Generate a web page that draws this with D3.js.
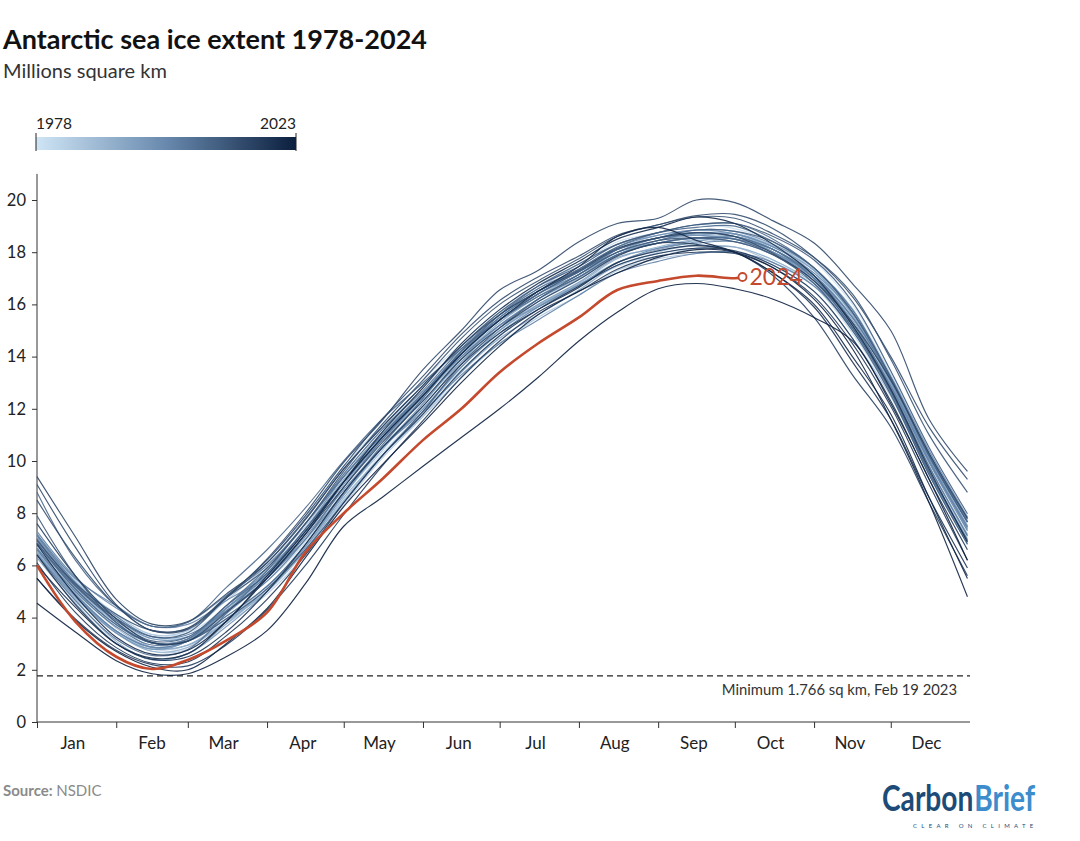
<!DOCTYPE html>
<html><head><meta charset="utf-8">
<script src="https://cdn.jsdelivr.net/npm/d3@7"></script>
<style>
body{margin:0;background:#fff;}
svg text{font-family: Lato, "Open Sans", "Noto Sans", sans-serif;}
</style></head><body>
<svg id="chart" width="1080" height="841"></svg>
<script>
// ---- data (millions sq km), sampled on these days of year ----
const days = [0,15,31,45,59,74,90,105,120,135,151,166,181,196,212,227,243,258,273,288,304,319,334,349,364];
const monthNames = ["Jan","Feb","Mar","Apr","May","Jun","Jul","Aug","Sep","Oct","Nov","Dec"];
const monthStarts = [0,31,59,90,120,151,181,212,243,273,304,334];
const yTicks = [0,2,4,6,8,10,12,14,16,18,20];
const minimumValue = 1.766;
const minimumLabel = "Minimum 1.766 sq km, Feb 19 2023";

const y1978 = [null,null,null,null,null,null,null,null,null,null,null,null,null,null,null,null,null,null,null,null,17.7,16.0,13.45,10.45,7.85];
const y1979 = [7.1,5.3,3.97,3.19,3.26,3.95,5.1,6.7,8.5,10.3,11.9,13.6,14.9,15.9,16.85,17.6,18.15,18.45,18.6,18.1,17.2,15.6,13.13,10.19,7.65];
const y1980 = [6.95,5.2,3.89,3.19,3.42,4.75,6.2,7.9,9.8,11.4,13.1,14.5,15.8,16.7,17.55,18.4,18.75,19.05,18.9,18.4,17.3,15.6,13.0,10.0,7.46];
const y1981 = [7.3,5.45,4.13,3.35,3.42,4.35,5.4,6.9,9.0,10.6,12.0,13.5,14.7,15.6,16.55,17.5,17.85,18.15,18.2,17.7,16.7,14.9,12.54,9.47,6.81];
const y1982 = [6.5,4.8,3.49,2.79,3.1,4.35,5.7,7.4,9.2,11.0,12.5,14.0,15.2,16.2,16.95,17.9,18.45,18.65,18.7,18.2,17.3,15.8,13.32,10.39,7.85];
const y1983 = [7.2,5.4,4.05,3.27,3.26,4.05,5.2,6.7,8.7,10.5,12.2,13.9,15.3,16.4,17.15,18.0,18.35,18.55,18.4,17.9,16.8,15.0,12.67,9.6,6.94];
const y1984 = [6.65,4.9,3.41,2.71,2.78,3.75,4.9,6.4,8.3,10.1,11.7,13.4,14.8,15.8,16.75,17.45,18.0,18.3,18.55,18.2,17.35,15.85,13.13,10.19,7.65];
const y1985 = [7.15,5.4,4.13,3.35,3.5,4.65,6.0,7.5,9.5,11.2,12.8,14.4,15.7,16.6,17.55,18.3,18.65,18.85,18.7,18.1,17.0,15.2,12.74,9.67,7.07];
const y1986 = [6.7,4.95,3.49,2.79,2.94,3.95,5.1,6.7,8.5,10.2,11.7,13.2,14.5,15.5,16.35,17.3,17.75,17.95,18.0,17.5,16.5,14.7,12.48,9.48,6.81];
const y1987 = [6.4,4.75,3.41,2.79,3.1,4.25,5.6,7.2,9.2,10.8,12.5,14.2,15.5,16.5,17.25,18.1,18.65,18.75,18.7,18.1,17.2,15.5,13.06,null,null];
const y1988 = [null,5.1,3.81,3.03,3.1,3.95,5.2,6.7,8.7,10.4,12.2,14.0,15.4,16.4,17.15,18.1,18.55,18.65,18.7,18.1,17.1,15.5,13.0,10.0,7.46];
const y1989 = [6.9,5.15,3.81,3.03,3.18,4.45,5.8,7.4,9.4,11.0,12.5,13.9,15.1,16.0,16.75,17.6,18.05,18.25,18.2,17.6,16.7,15.0,12.74,9.8,7.2];
const y1990 = [6.8,5.05,3.6,2.85,2.95,3.85,5.0,6.55,8.45,10.2,11.9,13.6,15.0,16.1,17.0,17.9,18.45,18.7,18.7,18.25,17.3,15.65,13.1,10.05,7.35];
const y1991 = [6.55,4.85,3.41,2.71,2.86,3.85,5.0,6.6,8.4,10.2,11.9,13.6,15.0,15.95,16.8,17.75,18.2,18.5,18.6,18.1,17.1,15.5,13.13,10.25,7.79];
const y1992 = [7.1,5.25,3.81,2.87,2.94,3.85,5.1,6.6,8.6,10.2,11.8,13.4,14.7,15.6,16.55,17.5,17.95,18.15,18.2,17.7,16.8,15.2,12.93,10.0,7.46];
const y1993 = [6.5,4.7,3.09,2.39,2.62,3.75,5.1,6.8,8.7,10.5,12.1,13.8,15.2,16.2,17.05,18.0,18.35,18.55,18.6,18.1,17.0,15.3,12.8,9.8,7.14];
const y1994 = [6.6,4.85,3.49,2.87,3.1,4.35,5.7,7.3,9.3,10.9,12.5,14.0,15.3,16.3,17.15,17.9,18.45,18.65,18.7,18.2,17.3,15.6,13.06,10.12,7.52];
const y1995 = [6.8,5.1,3.73,3.03,3.18,4.15,5.5,7.0,9.0,10.8,12.4,14.1,15.4,16.4,17.15,18.1,18.55,18.65,18.5,18.0,16.9,15.1,12.67,9.6,6.94];
const y1996 = [6.45,4.85,3.49,2.87,3.1,4.35,5.7,7.4,9.2,10.8,12.3,13.8,15.0,16.0,16.85,17.8,18.15,18.45,18.4,17.9,17.0,15.4,13.0,10.06,7.52];
const y1997 = [6.3,4.55,3.01,2.39,2.62,3.65,5.0,6.7,8.7,10.5,12.2,13.9,15.2,15.9,16.7,17.6,18.1,18.4,18.6,18.0,16.9,15.1,12.6,9.54,6.88];
const y1998 = [6.4,4.8,3.41,2.79,3.1,4.45,5.8,7.4,9.4,11.1,12.6,14.1,15.4,16.4,17.15,18.0,18.55,18.65,18.5,18.0,17.1,15.5,13.13,10.26,7.72];
const y1999 = [7.05,5.3,3.97,3.19,3.26,4.35,5.6,7.3,9.1,10.9,12.5,14.2,15.5,16.5,17.25,18.1,18.55,18.85,18.8,18.3,17.4,15.7,13.06,10.06,7.4];
const y2000 = [6.85,5.1,3.73,3.03,3.18,4.35,5.6,7.2,9.2,10.9,12.6,14.2,15.6,16.5,17.35,18.2,18.65,18.85,18.7,18.2,17.2,15.7,13.25,10.39,7.85];
const y2001 = [7.3,5.55,4.37,3.67,3.74,4.65,5.6,7.0,8.8,10.5,12.0,13.6,14.9,15.9,16.75,17.6,18.15,18.35,18.4,18.0,17.0,15.3,12.87,9.93,7.33];
const y2002 = [6.6,4.9,3.49,2.87,3.1,4.25,5.5,7.1,8.9,10.5,11.9,13.3,14.5,15.4,16.35,17.2,17.65,17.95,18.0,17.6,16.7,15.1,12.87,10.0,7.46];
const y2003 = [7.2,5.5,4.45,3.67,3.82,4.85,6.0,7.6,9.4,11.0,12.6,14.0,15.2,16.2,17.05,17.9,18.35,18.55,18.5,18.1,17.1,15.5,13.13,10.26,7.79];
const y2004 = [7.15,5.35,4.05,3.27,3.34,4.25,5.4,7.0,9.0,10.8,12.5,14.2,15.5,16.5,17.35,18.1,18.55,18.75,18.6,18.1,17.1,15.3,12.8,9.8,7.14];
const y2005 = [6.65,5.0,3.65,2.95,3.18,4.45,5.9,7.6,9.4,11.0,12.6,14.2,15.4,16.4,17.25,18.0,18.45,18.75,18.6,18.1,17.0,15.2,12.67,9.6,6.94];
const y2006 = [6.4,4.65,3.17,2.55,2.78,4.15,5.8,7.6,9.5,11.2,12.7,14.3,15.6,16.6,17.35,18.2,18.75,19.05,19.1,18.5,17.4,15.8,13.19,10.19,7.66];
const y2007 = [6.85,5.1,3.73,3.03,3.1,4.05,5.2,6.8,8.8,10.6,12.4,14.2,15.6,16.7,17.55,18.3,18.75,18.95,19.0,18.4,17.4,15.7,13.19,10.26,7.66];
const y2008 = [8.8,6.2,4.45,3.67,3.82,5.15,6.6,8.2,10.0,11.6,13.0,14.3,15.4,16.3,17.05,17.9,18.35,18.55,18.5,17.9,16.9,15.1,12.67,9.6,6.99];
const y2009 = [6.85,5.2,3.89,3.11,3.26,4.45,5.7,7.4,9.2,10.9,12.5,14.1,15.4,16.4,17.25,18.1,18.55,18.85,18.8,18.4,17.4,15.7,13.19,10.19,7.66];
const y2010 = [7.0,5.25,3.97,3.27,3.42,4.75,6.1,7.8,9.7,11.3,12.9,14.4,15.7,16.7,17.45,18.3,18.75,19.05,19.1,18.6,17.7,16.1,13.45,10.52,7.98];
const y2011 = [7.9,5.6,3.81,3.03,3.1,3.95,5.1,6.6,8.4,10.2,11.9,13.7,15.1,16.2,17.15,18.0,18.45,18.55,18.4,17.9,16.8,15.0,12.54,9.47,6.81];
const y2012 = [6.95,5.3,4.13,3.51,3.58,4.75,5.9,7.6,9.6,11.4,13.1,14.7,16.0,16.9,17.75,18.6,19.05,19.35,19.3,18.7,17.8,16.4,13.9,11.0,8.8];
const y2013 = [8.5,6.3,4.45,3.5,3.6,4.8,6.2,7.9,9.8,11.6,13.25,14.85,16.15,17.05,17.85,18.65,19.05,19.4,19.45,18.9,17.8,16.3,14.0,11.3,9.3];
const y2014 = [9.1,6.7,4.5,3.5,3.55,4.75,6.25,8.0,9.95,11.55,13.5,15.0,16.55,17.3,18.4,19.1,19.3,20.0,19.9,19.2,18.35,16.8,15.0,11.6,9.6];
const y2015 = [9.4,7.1,4.7,3.75,3.85,4.9,6.1,7.75,9.7,11.3,12.9,14.4,15.6,16.5,17.3,18.15,18.55,18.75,18.6,17.95,16.9,15.3,13.1,10.3,7.8];
const y2016 = [7.6,5.6,3.95,3.05,3.1,4.2,5.5,7.2,9.0,10.7,12.3,13.9,15.1,16.1,16.95,17.85,18.35,18.3,18.0,17.1,15.5,13.3,11.3,8.4,5.6];
const y2017 = [5.5,3.95,2.75,2.2,2.15,2.95,4.3,6.0,7.95,9.8,11.55,13.2,14.6,15.7,16.5,17.35,17.85,18.0,17.95,17.4,16.3,14.5,12.1,9.1,6.2];
const y2018 = [6.1,4.2,2.85,2.25,2.3,3.3,4.7,6.4,8.4,10.2,11.8,13.45,14.8,15.8,16.7,17.5,17.95,18.15,18.05,17.5,16.5,14.7,12.3,9.3,6.6];
const y2019 = [6.4,4.5,3.0,2.4,2.5,3.45,5.0,6.8,8.8,10.5,12.1,13.7,14.9,15.8,16.65,17.6,18.05,18.25,18.0,17.2,15.9,13.8,11.6,8.6,5.9];
const y2020 = [6.0,4.4,3.0,2.45,2.62,3.85,5.5,7.2,9.2,11.1,12.8,14.5,15.8,16.8,17.65,18.5,18.95,19.35,19.1,18.3,17.1,15.2,12.75,9.7,6.9];
const y2021 = [6.8,4.85,3.25,2.6,2.75,3.85,5.6,7.3,9.2,10.9,12.5,14.1,15.4,16.5,17.45,18.6,18.95,18.45,18.0,17.2,16.0,14.0,11.8,8.6,5.5];
const y2022 = [5.5,3.9,2.7,2.1,2.0,3.0,4.35,6.3,8.25,9.85,11.45,13.0,14.4,15.6,16.5,17.2,17.8,18.1,18.0,17.4,16.2,14.3,11.6,8.4,4.8];
const y2023 = [4.55,3.45,2.35,1.85,1.85,2.5,3.5,5.3,7.5,8.6,9.8,10.9,12.0,13.2,14.6,15.7,16.6,16.8,16.6,16.2,15.5,14.6,12.2,9.3,6.2];

const days2024 = [0,15,31,45,59,74,90,105,120,135,151,166,181,196,212,227,243,258,273,276];
const y2024 = [6.0,3.85,2.5,2.03,2.38,3.12,4.2,6.5,8.0,9.3,10.8,12.0,13.4,14.5,15.5,16.55,16.9,17.1,17.0,17.05];

const yearList = [1978,1979,1980,1981,1982,1983,1984,1985,1986,1987,1988,1989,1990,1991,1992,1993,1994,1995,1996,1997,1998,1999,2000,2001,2002,2003,2004,2005,2006,2007,2008,2009,2010,2011,2012,2013,2014,2015,2016,2017,2018,2019,2020,2021,2022,2023];
const yearValues = [y1978,y1979,y1980,y1981,y1982,y1983,y1984,y1985,y1986,y1987,y1988,y1989,y1990,y1991,y1992,y1993,y1994,y1995,y1996,y1997,y1998,y1999,y2000,y2001,y2002,y2003,y2004,y2005,y2006,y2007,y2008,y2009,y2010,y2011,y2012,y2013,y2014,y2015,y2016,y2017,y2018,y2019,y2020,y2021,y2022,y2023];

// ---- drawing ----
const svg = d3.select("#chart");
const left = 37, right = 970, bottom = 722;
const x = d3.scaleLinear().domain([0, 365]).range([left, right]);
const y = d3.scaleLinear().domain([0, 21]).range([bottom, bottom - 21 * 26.1]);
const color = d3.scaleLinear().domain([1978, 2000.5, 2023]).range(["#cfe5f6", "#6889ad", "#0b1f3e"]).interpolate(d3.interpolateRgb);
const red = "#c4492d";

// title
svg.append("text").attr("x", 3).attr("y", 49).attr("font-size", 27).attr("font-weight", 700).attr("fill", "#111").text("Antarctic sea ice extent 1978-2024");
svg.append("text").attr("x", 3).attr("y", 78).attr("font-size", 20).attr("fill", "#333").text("Millions square km");

// legend
const defs = svg.append("defs");
const grad = defs.append("linearGradient").attr("id", "yrgrad");
d3.range(0, 1.0001, 0.1).forEach(t => {
  grad.append("stop").attr("offset", t).attr("stop-color", color(1978 + t * 45));
});
const lx0 = 36, lx1 = 296;
svg.append("rect").attr("x", lx0).attr("y", 137).attr("width", lx1 - lx0).attr("height", 13).attr("fill", "url(#yrgrad)");
[lx0, lx1].forEach(xx => svg.append("line").attr("x1", xx).attr("x2", xx).attr("y1", 133).attr("y2", 151).attr("stroke", "#222").attr("stroke-width", 1));
svg.append("text").attr("x", lx0).attr("y", 129).attr("font-size", 15.5).attr("fill", "#222").text(yearList[0]);
svg.append("text").attr("x", lx1).attr("y", 129).attr("font-size", 15.5).attr("fill", "#222").attr("text-anchor", "end").text(yearList[yearList.length - 1]);

// axes
const yAxis = d3.axisLeft(y).tickValues(yTicks).tickSize(5).tickPadding(6);
const gy = svg.append("g").attr("transform", `translate(${left},0)`).call(yAxis);
gy.select(".domain").attr("d", `M0,${y(0)}V${y(21)}`).attr("stroke", "#333");
gy.selectAll(".tick line").attr("stroke", "#333");
gy.selectAll(".tick text").attr("font-size", 16.5).attr("fill", "#222").attr("font-family", "Lato, 'Open Sans', sans-serif");

const xAxis = d3.axisBottom(x).tickValues(monthStarts).tickSize(6).tickFormat("");
const gx = svg.append("g").attr("transform", `translate(0,${bottom})`).call(xAxis);
gx.select(".domain").attr("d", `M${left},0H${right}`).attr("stroke", "#333");
gx.selectAll(".tick line").attr("stroke", "#333");
svg.append("g").selectAll("text").data(monthNames).join("text")
  .attr("x", (d, i) => x(monthStarts[i] + 14)).attr("y", 749)
  .attr("text-anchor", "middle").attr("font-size", 17).attr("fill", "#222").text(d => d);

// minimum line
svg.append("line").attr("x1", left).attr("x2", right).attr("y1", y(minimumValue)).attr("y2", y(minimumValue))
  .attr("stroke", "#222").attr("stroke-width", 1.2).attr("stroke-dasharray", "6,4");
svg.append("text").attr("x", 957).attr("y", 695).attr("text-anchor", "end").attr("font-size", 14.8).attr("fill", "#333").text(minimumLabel);

// lines
const line = d3.line().defined(d => d[1] != null).x(d => x(d[0])).y(d => y(d[1])).curve(d3.curveCatmullRom.alpha(0.5));
const gl = svg.append("g");
yearList.forEach((yr, i) => {
  const pts = days.map((dd, j) => [dd, yearValues[i][j] == null ? null : yearValues[i][j]]);
  gl.append("path").attr("d", line(pts)).attr("fill", "none")
    .attr("stroke", color(yr)).attr("stroke-width", 1.15).attr("stroke-opacity", 0.9);
});
const pts24 = days2024.map((dd, j) => [dd, y2024[j]]);
svg.append("path").attr("d", line(pts24)).attr("fill", "none").attr("stroke", red).attr("stroke-width", 2.6).attr("stroke-linejoin", "round");
const last = pts24[pts24.length - 1];
svg.append("circle").attr("cx", x(last[0])).attr("cy", y(last[1])).attr("r", 4).attr("fill", "#fff").attr("stroke", red).attr("stroke-width", 1.8);
svg.append("text").attr("x", x(last[0]) + 7).attr("y", y(last[1]) + 8.5).attr("font-size", 23).attr("fill", red).text("2024");

// footer
const src = svg.append("text").attr("x", 3).attr("y", 796).attr("font-size", 15).attr("fill", "#8a8a8a");
src.append("tspan").attr("font-weight", 700).text("Source: ");
src.append("tspan").text("NSDIC");

// logo: two words side by side, group squeezed horizontally to the logo width
const logoG = svg.append("g");
const logoFont = "'Liberation Sans Narrow', 'Roboto', sans-serif";
const tCarbon = logoG.append("text").attr("x", 0).attr("y", 0).attr("font-size", 36).attr("font-weight", 700)
  .attr("font-family", logoFont).attr("fill", "#1d4b77").text("Carbon");
const wC = tCarbon.node().getComputedTextLength();
const tBrief = logoG.append("text").attr("x", wC + 1).attr("y", 0).attr("font-size", 36).attr("font-weight", 700)
  .attr("font-family", logoFont).attr("fill", "#3d8dcc").text("Brief");
const wB = tBrief.node().getComputedTextLength();
const sx = 153 / (wC + 1 + wB);
logoG.attr("transform", `translate(882,811) scale(${sx},1)`);
svg.append("text").attr("x", 913).attr("y", 828).attr("font-size", 6).attr("fill", "#1d4b77").attr("letter-spacing", 4.3)
  .attr("font-family", "'Liberation Sans', sans-serif").text("CLEAR ON CLIMATE");
</script>
</body></html>
